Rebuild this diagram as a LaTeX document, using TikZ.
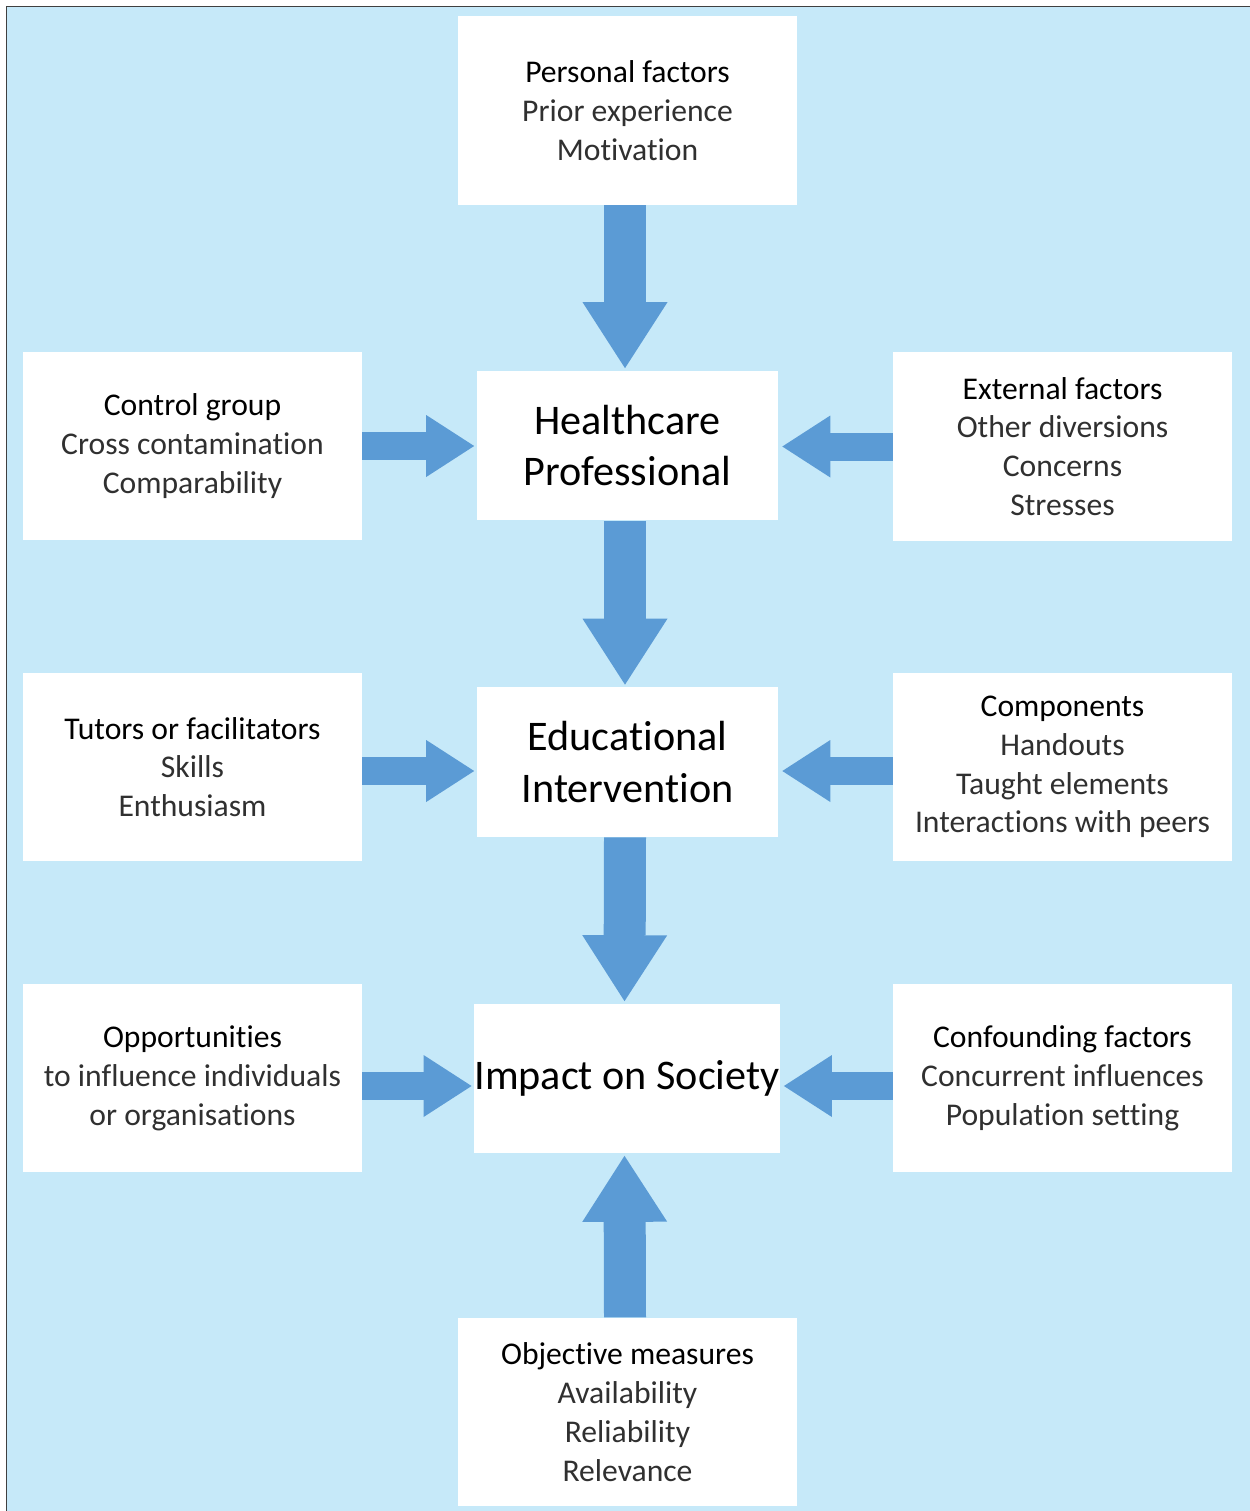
\documentclass[tikz,border=0pt]{standalone}
\usepackage{fontspec}
\setmainfont{Carlito}[Ligatures={NoCommon,NoContextual}, Contextuals=NoAlternate]
\usetikzlibrary{arrows.meta}
\definecolor{skyback}{HTML}{C6E9F9}
\definecolor{arrowblue}{HTML}{5B9BD5}
\definecolor{bodygray}{HTML}{303030}
\newcommand\boxhead[1]{{\color{black}#1}\\}
\tikzset{
  factor/.style={rectangle, fill=white, inner sep=0pt, align=center,
    minimum width=6.78cm, minimum height=3.77cm, text=bodygray,
    font=\fontsize{18}{22.1}\selectfont},
  core/.style={rectangle, fill=white, inner sep=0pt, align=center,
    minimum width=6.02cm, minimum height=3cm, text=black,
    font=\fontsize{24}{29.5}\selectfont},
  downarrow/.style={draw=arrowblue, line width=0.84cm,
    -{Triangle[length=1.32cm, width=1.7cm, line width=0pt]}, shorten >=0.04cm},
  sidearrow/.style={draw=arrowblue, line width=0.56cm,
    -{Triangle[length=0.96cm, width=1.24cm, line width=0pt]}, shorten >=0.05cm}
}
\begin{document}
\begin{tikzpicture}[x=0.02cm, y=-0.02cm]
\useasboundingbox (0,0) rectangle (1250,1511);
\fill[white] (0,0) rectangle (1250,1511);
\fill[skyback] (7,7) rectangle (1250,1511);
\draw[black!75, line width=0.04cm] (6.5,1511)--(6.5,6.5)--(1250,6.5);

% middle column
\node[factor] (pf) at (627.5,110.5) {\boxhead{Personal factors}Prior experience\\Motivation};
\node[core] (hp) at (627.5,445.5) {Healthcare\\Professional};
\node[core] (edu) at (627.5,762) {Educational\\Intervention};
\node[core, minimum width=6.04cm] (imp) at (627,1078.5) {Impact on Society};
\node[factor] (om) at (627.5,1412) {\boxhead{Objective measures}Availability\\Reliability\\Relevance};

% left column
\node[factor] (cg) at (192.5,446) {\boxhead{Control group}Cross contamination\\Comparability};
\node[factor] (tut) at (192.5,767) {\boxhead{Tutors or facilitators}Skills\\Enthusiasm};
\node[factor] (opp) at (192.5,1078) {\boxhead{Opportunities}to influence individuals\\or organisations};

% right column
\node[factor] (ef) at (1062.5,446.5) {\boxhead{External factors}Other diversions\\Concerns\\Stresses};
\node[factor] (comp) at (1062.5,767) {\boxhead{Components}Handouts\\Taught elements\\Interactions with peers};
\node[factor] (conf) at (1062.5,1078) {\boxhead{Confounding factors}Concurrent influences\\Population setting};

% arrows
\draw[downarrow] ([xshift=-0.05cm]pf.south) -- ([xshift=-0.05cm]hp.north);
\draw[downarrow] ([xshift=-0.05cm]hp.south) -- ([xshift=-0.05cm]edu.north);
\draw[downarrow] ([xshift=-0.05cm]edu.south) -- ([xshift=-0.05cm]imp.north);
\draw[downarrow] ([xshift=-0.05cm]om.north) -- ([xshift=-0.05cm]imp.south);

\coordinate (c1) at (cg.east);
\coordinate (c2) at ([yshift=-0.08cm]tut.east);
\coordinate (c3) at ([yshift=-0.16cm]opp.east);
\coordinate (d1) at (ef.west);
\coordinate (d2) at ([yshift=-0.08cm]comp.west);
\coordinate (d3) at ([yshift=-0.16cm]conf.west);
\draw[sidearrow] (c1) -- (c1 -| hp.west);
\draw[sidearrow] (c2) -- (c2 -| edu.west);
\draw[sidearrow] (c3) -- (c3 -| imp.west);
\draw[sidearrow, shorten >=0.08cm] (d1) -- (d1 -| hp.east);
\draw[sidearrow, shorten >=0.08cm] (d2) -- (d2 -| edu.east);
\draw[sidearrow, shorten >=0.08cm] (d3) -- (d3 -| imp.east);
\end{tikzpicture}
\end{document}
